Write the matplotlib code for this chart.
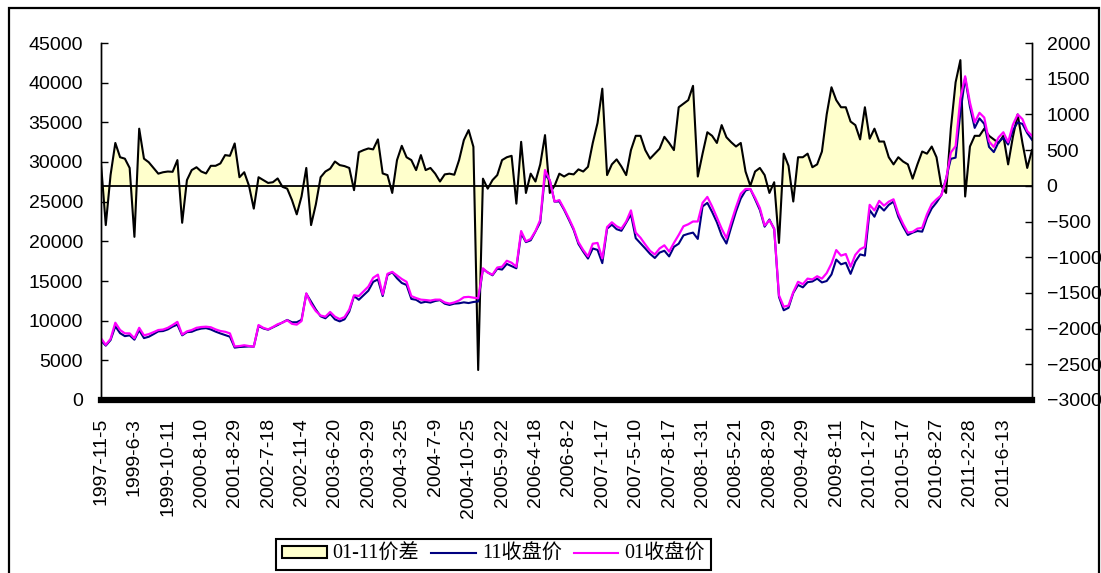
import matplotlib
matplotlib.use("Agg")
from matplotlib import pyplot as plt
from matplotlib.patches import Patch, Rectangle
from matplotlib.lines import Line2D

# category labels shown on the x axis (every 7th point)
dates = ["1997-11-5", "1999-6-3", "1999-10-11", "2000-8-10", "2001-8-29", "2002-7-18",
         "2002-11-4", "2003-6-20", "2003-9-29", "2004-3-25", "2004-7-9", "2004-10-25",
         "2005-9-22", "2006-4-18", "2006-8-2", "2007-1-17", "2007-5-10", "2007-8-17",
         "2008-1-31", "2008-5-21", "2008-8-29", "2009-4-29", "2009-8-11", "2010-1-27",
         "2010-5-17", "2010-8-27", "2011-2-28", "2011-6-13"]

# 01-11 price spread (right axis)
spread = [313, -550, 150, 600, 400, 380, 250, -715, 800, 380,
          330, 250, 170, 190, 200, 196, 360, -518, 80, 220,
          260, 200, 173, 280, 280, 313, 430, 420, 593, 120,
          190, 0, -320, 120, 80, 40, 50, 103, -14, -40,
          -200, -400, -150, 250, -550, -260, 120, 200, 240, 340,
          290, 276, 250, -61, 470, 500, 523, 510, 650, 173,
          150, -100, 360, 560, 400, 360, 220, 430, 220, 250,
          170, 60, 160, 170, 155, 360, 640, 780, 546, -2580,
          100, -40, 80, 150, 360, 400, 420, -250, 616, -100,
          170, 60, 300, 710, -100, 0, 170, 130, 170, 160,
          230, 200, 266, 600, 880, 1360, 150, 300, 370, 270,
          150, 500, 700, 700, 500, 380, 450, 520, 686, 600,
          500, 1100, 1150, 1200, 1400, 130, 450, 750, 700, 600,
          850, 680, 610, 550, 600, 200, 0, 200, 250, 150,
          -100, 50, -800, 450, 280, -220, 400, 400, 450, 260,
          300, 480, 1000, 1380, 1200, 1100, 1100, 900, 850, 650,
          1100, 660, 800, 620, 620, 400, 300, 400, 340, 300,
          100, 300, 480, 450, 550, 400, 0, -100, 800, 1450,
          1760, -150, 550, 700, 700, 800, 700, 650, 600, 700,
          300, 686, 1000, 600, 250, 500]

# 11 contract close (left axis)
close_11 = [7480, 6850, 7550, 9290, 8420, 8050, 8150, 7600, 8800, 7800,
            7970, 8300, 8650, 8690, 8900, 9250, 9500, 8150, 8550, 8600,
            8850, 9000, 9060, 8890, 8620, 8390, 8180, 7980, 6600, 6680,
            6710, 6750, 6720, 9330, 9020, 8860, 9150, 9450, 9770, 10090,
            9800, 9800, 10100, 13400, 12400, 11400, 10550, 10300, 10860, 10160,
            9910, 10170, 11150, 13100, 12630, 13200, 13780, 14890, 15200, 13100,
            15750, 16100, 15340, 14750, 14500, 12740, 12630, 12250, 12380, 12280,
            12480, 12590, 12140, 11980, 12145, 12190, 12310, 12220, 12354, 12420,
            16500, 16090, 15720, 16550, 16440, 17150, 16880, 16600, 21000, 19900,
            20130, 21240, 22400, 28400, 27700, 25000, 25030, 23970, 22730, 21440,
            19670, 18700, 17830, 19100, 18920, 17250, 21600, 22100, 21530, 21330,
            22350, 23400, 20400, 19750, 19100, 18420, 17900, 18580, 18814, 18100,
            19300, 19700, 20750, 20950, 21100, 20300, 24400, 24850, 23700, 22400,
            20750, 19720, 21790, 23750, 25400, 26400, 26600, 25300, 23950, 21850,
            22750, 21550, 13000, 11310, 11620, 13500, 14500, 14200, 14850, 14940,
            15300, 14820, 15000, 15820, 17700, 17100, 17300, 15900, 17450, 18350,
            18200, 23940, 23100, 24480, 23880, 24600, 25000, 23100, 21860, 20800,
            21100, 21300, 21220, 22950, 24150, 24900, 25800, 27900, 30400, 30550,
            36240, 40600, 36950, 34300, 35500, 34800, 31900, 31250, 32500, 33050,
            32200, 34000, 35000, 34800, 33650, 32800]

# 01 contract close (left axis)
close_01 = [7780, 6950, 7700, 9740, 8820, 8400, 8400, 7780, 9100, 8150,
            8300, 8550, 8820, 8880, 9100, 9450, 9850, 8250, 8650, 8820,
            9100, 9200, 9240, 9170, 8900, 8700, 8600, 8400, 6750, 6800,
            6900, 6800, 6720, 9450, 9100, 8900, 9200, 9550, 9750, 10050,
            9600, 9500, 9950, 13440, 12100, 11200, 10650, 10500, 11100, 10500,
            10200, 10450, 11400, 13200, 13100, 13700, 14300, 15400, 15800, 13300,
            15900, 16150, 15700, 15250, 14900, 13100, 12850, 12650, 12600, 12530,
            12650, 12650, 12300, 12150, 12300, 12550, 12950, 13000, 12900, 12820,
            16600, 16050, 15800, 16700, 16800, 17550, 17300, 16800, 21300, 20000,
            20300, 21300, 22700, 28990, 27700, 25000, 25200, 24100, 22900, 21600,
            19900, 18900, 18100, 19700, 19800, 17850, 21800, 22400, 21900, 21600,
            22500, 23900, 21100, 20450, 19600, 18800, 18350, 19100, 19500, 18700,
            19800, 20800, 21900, 22150, 22500, 22500, 24850, 25600, 24400, 23000,
            21600, 20400, 22400, 24300, 26000, 26600, 26600, 25500, 24200, 22000,
            22650, 21600, 13200, 11760, 11900, 13600, 14900, 14600, 15300, 15200,
            15600, 15300, 16000, 17200, 18900, 18200, 18400, 16800, 18300, 19000,
            19300, 24600, 23900, 25100, 24500, 25000, 25300, 23500, 22200, 21100,
            21200, 21600, 21700, 23400, 24700, 25300, 25800, 27800, 31200, 32000,
            38000, 40800, 37500, 35000, 36200, 35600, 32600, 31900, 33100, 33750,
            32500, 34700, 36000, 35400, 33900, 33300]

plt.rcParams['font.family'] = ['Liberation Sans', 'Noto Sans CJK SC']

W, H = 1101, 573
fig = plt.figure(figsize=(W / 100, H / 100), dpi=100)
ax = fig.add_axes([101 / W, (H - 400) / H, 931 / W, 357 / H])
ax2 = ax.twinx()
ax.yaxis.tick_right()
ax2.yaxis.tick_left()

x = list(range(len(spread)))

# spread as area on the right scale
ax.fill_between(x, 0, spread, color='#FFFFCC', lw=0)
ax.plot(x, spread, color='black', lw=1.5)
ax.axhline(0, color='black', lw=1.3)
ax.set_ylim(-3000, 2000)
ax.set_yticks(range(-3000, 2001, 500))
ax.set_xlim(0, len(spread) - 1)
ax.set_xticks(range(0, 7 * len(dates), 7))
ax.set_xticklabels(dates, rotation=90, ha='center', va='top')

# closing prices on the left scale
ax2.plot(x, close_11, color='#000080', lw=1.5)
ax2.plot(x, close_01, color='#FF00FF', lw=1.6)
ax2.set_ylim(0, 45000)
ax2.set_yticks(range(0, 45001, 5000))

for a in (ax, ax2):
    a.spines['top'].set_visible(False)
    a.spines['left'].set_linewidth(1.0)
    a.spines['right'].set_linewidth(1.0)
ax2.spines['bottom'].set_visible(False)
ax.spines['bottom'].set_linewidth(4.5)

ax.tick_params(axis='y', direction='in', length=5, width=1, pad=10.5, labelsize=14)
ax2.tick_params(axis='y', direction='in', length=5, width=1, pad=13, labelsize=14)
ax.tick_params(axis='x', length=0, pad=13, labelsize=14)

handles = [Patch(facecolor='#FFFFCC', edgecolor='black', lw=1.5),
           Line2D([], [], color='#000080', lw=1.5),
           Line2D([], [], color='#FF00FF', lw=1.5)]
labels = ["01-11价差", "11收盘价", "01收盘价"]
leg = fig.legend(handles, labels, loc='center', bbox_to_anchor=(493.5 / W, (H - 554.5) / H),
                 ncol=3, fancybox=False, edgecolor='black', framealpha=1,
                 prop={'family': ['Liberation Serif', 'Noto Sans CJK SC'], 'size': 14.5},
                 handlelength=2.2, handleheight=0.5, handletextpad=0.3,
                 columnspacing=0.6, borderpad=0.3)
leg.get_frame().set_linewidth(1.5)

# chart area border (runs off the bottom edge)
fig.add_artist(Rectangle((9 / W, -0.1), 1090 / W, (H - 8) / H + 0.1,
                         transform=fig.transFigure, fill=False, edgecolor='black', lw=1.6))

fig.savefig("out.png", dpi=100)
